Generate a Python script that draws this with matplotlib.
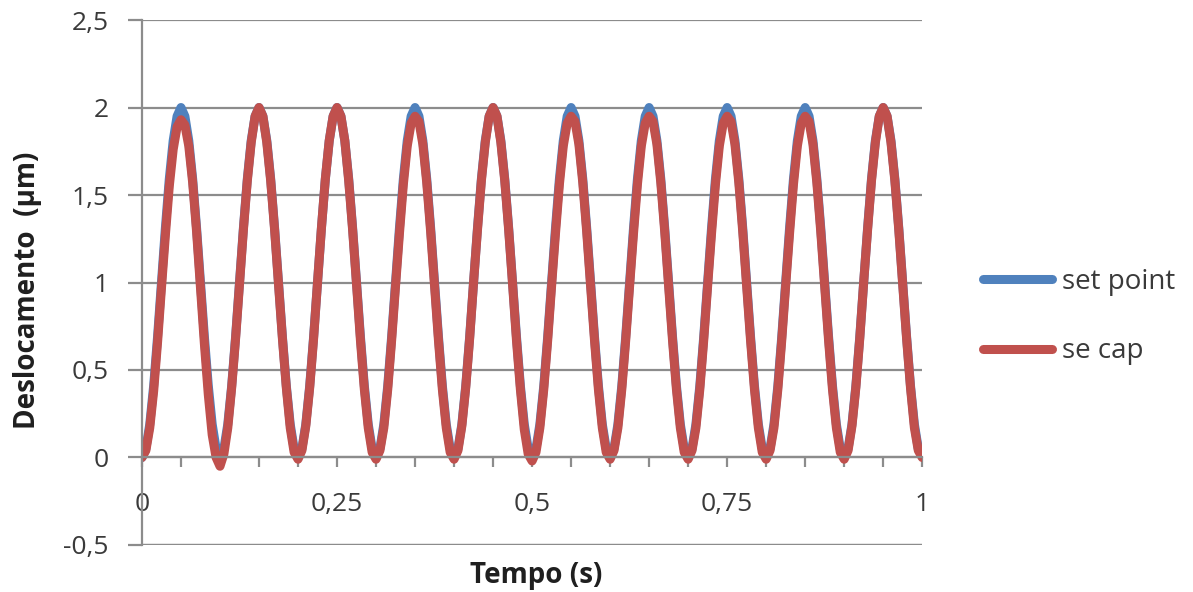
import numpy as np
import matplotlib.pyplot as plt
from matplotlib.ticker import MultipleLocator, FuncFormatter

# amostras de tempo (s), passo de 5 ms
tempo = [
    0.000, 0.005, 0.010, 0.015, 0.020, 0.025, 0.030, 0.035, 0.040, 0.045,
    0.050, 0.055, 0.060, 0.065, 0.070, 0.075, 0.080, 0.085, 0.090, 0.095,
    0.100, 0.105, 0.110, 0.115, 0.120, 0.125, 0.130, 0.135, 0.140, 0.145,
    0.150, 0.155, 0.160, 0.165, 0.170, 0.175, 0.180, 0.185, 0.190, 0.195,
    0.200, 0.205, 0.210, 0.215, 0.220, 0.225, 0.230, 0.235, 0.240, 0.245,
    0.250, 0.255, 0.260, 0.265, 0.270, 0.275, 0.280, 0.285, 0.290, 0.295,
    0.300, 0.305, 0.310, 0.315, 0.320, 0.325, 0.330, 0.335, 0.340, 0.345,
    0.350, 0.355, 0.360, 0.365, 0.370, 0.375, 0.380, 0.385, 0.390, 0.395,
    0.400, 0.405, 0.410, 0.415, 0.420, 0.425, 0.430, 0.435, 0.440, 0.445,
    0.450, 0.455, 0.460, 0.465, 0.470, 0.475, 0.480, 0.485, 0.490, 0.495,
    0.500, 0.505, 0.510, 0.515, 0.520, 0.525, 0.530, 0.535, 0.540, 0.545,
    0.550, 0.555, 0.560, 0.565, 0.570, 0.575, 0.580, 0.585, 0.590, 0.595,
    0.600, 0.605, 0.610, 0.615, 0.620, 0.625, 0.630, 0.635, 0.640, 0.645,
    0.650, 0.655, 0.660, 0.665, 0.670, 0.675, 0.680, 0.685, 0.690, 0.695,
    0.700, 0.705, 0.710, 0.715, 0.720, 0.725, 0.730, 0.735, 0.740, 0.745,
    0.750, 0.755, 0.760, 0.765, 0.770, 0.775, 0.780, 0.785, 0.790, 0.795,
    0.800, 0.805, 0.810, 0.815, 0.820, 0.825, 0.830, 0.835, 0.840, 0.845,
    0.850, 0.855, 0.860, 0.865, 0.870, 0.875, 0.880, 0.885, 0.890, 0.895,
    0.900, 0.905, 0.910, 0.915, 0.920, 0.925, 0.930, 0.935, 0.940, 0.945,
    0.950, 0.955, 0.960, 0.965, 0.970, 0.975, 0.980, 0.985, 0.990, 0.995,
    1.000,
]

# deslocamento de referencia (um)
set_point = [
    0.00, 0.05, 0.19, 0.41, 0.69, 1.00, 1.31, 1.59, 1.81, 1.95,
    2.00, 1.95, 1.81, 1.59, 1.31, 1.00, 0.69, 0.41, 0.19, 0.05,
    0.00, 0.05, 0.19, 0.41, 0.69, 1.00, 1.31, 1.59, 1.81, 1.95,
    2.00, 1.95, 1.81, 1.59, 1.31, 1.00, 0.69, 0.41, 0.19, 0.05,
    0.00, 0.05, 0.19, 0.41, 0.69, 1.00, 1.31, 1.59, 1.81, 1.95,
    2.00, 1.95, 1.81, 1.59, 1.31, 1.00, 0.69, 0.41, 0.19, 0.05,
    0.00, 0.05, 0.19, 0.41, 0.69, 1.00, 1.31, 1.59, 1.81, 1.95,
    2.00, 1.95, 1.81, 1.59, 1.31, 1.00, 0.69, 0.41, 0.19, 0.05,
    0.00, 0.05, 0.19, 0.41, 0.69, 1.00, 1.31, 1.59, 1.81, 1.95,
    2.00, 1.95, 1.81, 1.59, 1.31, 1.00, 0.69, 0.41, 0.19, 0.05,
    0.00, 0.05, 0.19, 0.41, 0.69, 1.00, 1.31, 1.59, 1.81, 1.95,
    2.00, 1.95, 1.81, 1.59, 1.31, 1.00, 0.69, 0.41, 0.19, 0.05,
    0.00, 0.05, 0.19, 0.41, 0.69, 1.00, 1.31, 1.59, 1.81, 1.95,
    2.00, 1.95, 1.81, 1.59, 1.31, 1.00, 0.69, 0.41, 0.19, 0.05,
    0.00, 0.05, 0.19, 0.41, 0.69, 1.00, 1.31, 1.59, 1.81, 1.95,
    2.00, 1.95, 1.81, 1.59, 1.31, 1.00, 0.69, 0.41, 0.19, 0.05,
    0.00, 0.05, 0.19, 0.41, 0.69, 1.00, 1.31, 1.59, 1.81, 1.95,
    2.00, 1.95, 1.81, 1.59, 1.31, 1.00, 0.69, 0.41, 0.19, 0.05,
    0.00, 0.05, 0.19, 0.41, 0.69, 1.00, 1.31, 1.59, 1.81, 1.95,
    2.00, 1.95, 1.81, 1.59, 1.31, 1.00, 0.69, 0.41, 0.19, 0.05,
    0.03,
]

# deslocamento medido pelo sensor capacitivo (um)
se_cap = [
    0.00, 0.04, 0.17, 0.38, 0.66, 0.97, 1.27, 1.55, 1.76, 1.89,
    1.93, 1.90, 1.78, 1.57, 1.29, 0.97, 0.65, 0.36, 0.13, 0.00,
    -0.05, 0.02, 0.17, 0.40, 0.68, 0.99, 1.30, 1.58, 1.80, 1.95,
    2.00, 1.95, 1.80, 1.58, 1.30, 0.99, 0.68, 0.40, 0.17, 0.03,
    -0.01, 0.04, 0.18, 0.40, 0.68, 1.00, 1.31, 1.59, 1.81, 1.95,
    2.00, 1.95, 1.81, 1.58, 1.30, 0.99, 0.67, 0.39, 0.17, 0.03,
    -0.01, 0.04, 0.17, 0.39, 0.67, 0.98, 1.28, 1.56, 1.78, 1.91,
    1.95, 1.92, 1.79, 1.57, 1.29, 0.98, 0.67, 0.39, 0.17, 0.03,
    -0.01, 0.04, 0.18, 0.40, 0.68, 1.00, 1.30, 1.58, 1.80, 1.95,
    2.00, 1.95, 1.80, 1.58, 1.30, 0.99, 0.67, 0.39, 0.16, 0.02,
    -0.02, 0.03, 0.17, 0.39, 0.67, 0.98, 1.28, 1.56, 1.78, 1.91,
    1.95, 1.92, 1.79, 1.57, 1.29, 0.98, 0.67, 0.39, 0.17, 0.03,
    -0.01, 0.04, 0.17, 0.39, 0.67, 0.98, 1.28, 1.56, 1.78, 1.91,
    1.95, 1.92, 1.79, 1.57, 1.29, 0.98, 0.67, 0.39, 0.17, 0.03,
    -0.01, 0.04, 0.17, 0.39, 0.67, 0.98, 1.28, 1.56, 1.78, 1.91,
    1.95, 1.92, 1.79, 1.57, 1.29, 0.98, 0.67, 0.39, 0.17, 0.03,
    -0.01, 0.04, 0.17, 0.39, 0.67, 0.98, 1.28, 1.56, 1.78, 1.91,
    1.95, 1.92, 1.79, 1.57, 1.29, 0.98, 0.67, 0.39, 0.17, 0.03,
    -0.01, 0.04, 0.18, 0.40, 0.68, 1.00, 1.30, 1.58, 1.80, 1.95,
    2.00, 1.95, 1.80, 1.58, 1.30, 0.99, 0.68, 0.40, 0.17, 0.04,
    0.00,
]

plt.rcParams['font.family'] = ['Open Sans', 'DejaVu Sans']

fig = plt.figure(figsize=(11.93, 5.92), dpi=100)
ax = fig.add_axes([0.119, 0.0794, 0.654, 0.8868])

cinza = '#8c8c8c'
estilo = dict(lw=6.5, solid_capstyle='round', solid_joinstyle='round')
ax.plot(tempo, set_point, color='#4F81BD', label='set point', **estilo)
ax.plot(tempo, se_cap, color='#C0504D', label='se cap', **estilo)

ax.set_xlim(0, 1)
ax.set_ylim(-0.5, 2.5)
ax.yaxis.set_major_locator(MultipleLocator(0.5))
ax.xaxis.set_major_locator(MultipleLocator(0.05))

virgula = lambda v, p: ('%g' % round(v, 2)).replace('.', ',')
ax.yaxis.set_major_formatter(FuncFormatter(virgula))
ax.xaxis.set_major_formatter(
    FuncFormatter(lambda v, p: virgula(v, p) if abs(v * 4 - round(v * 4)) < 1e-6 else ''))

ax.grid(axis='y', color=cinza, lw=1.6)
ax.set_axisbelow(True)

for s in ['top', 'right']:
    ax.spines[s].set_visible(False)
ax.spines['left'].set_color(cinza)
ax.spines['left'].set_linewidth(1.6)
ax.spines['bottom'].set_position(('data', 0))
ax.spines['bottom'].set_color(cinza)
ax.spines['bottom'].set_linewidth(1.6)
ax.axhline(-0.5, color=cinza, lw=1.6, zorder=0)

ax.tick_params(axis='y', direction='out', length=10, width=1.6, color=cinza,
               labelsize=19, labelcolor='#3a3a3a', pad=14)
ax.tick_params(axis='x', direction='out', length=7, width=1.6, color=cinza,
               labelsize=19, labelcolor='#3a3a3a', pad=18)

fig.text(28 / 1193, 1 - 290 / 592, 'Deslocamento  (µm)', rotation=90, fontsize=20,
         fontweight='bold', ha='center', va='center', color='#1f1f1f')
fig.text(536 / 1193, 1 - 575 / 592, 'Tempo (s)', fontsize=20, fontweight='bold',
         ha='center', va='center', color='#1f1f1f')

ax.legend(loc='center left', bbox_to_anchor=(1.078, 0.435), frameon=False, fontsize=20,
          borderpad=0, borderaxespad=0, handlelength=2.5, labelspacing=1.5,
          handletextpad=0.35, labelcolor='#3a3a3a')

fig.savefig('out.png', dpi=100)
